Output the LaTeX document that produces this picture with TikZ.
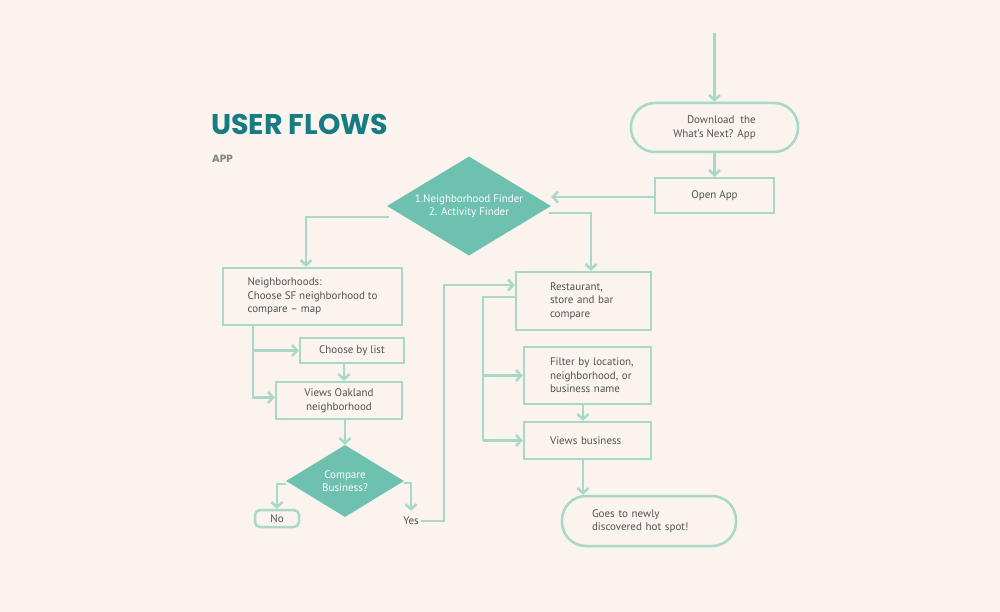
\documentclass[tikz,border=0pt]{standalone}
\usepackage{fontspec}
\setmainfont{PT Sans}
\newfontfamily\titlefont{Poppins}
\usetikzlibrary{arrows.meta,shapes.geometric,calc}
\definecolor{bg}{HTML}{FAF3EE}
\definecolor{ln}{HTML}{A9D8C8}
\definecolor{dfill}{HTML}{6DC1AE}
\definecolor{txt}{HTML}{525355}
\definecolor{ttl}{HTML}{177B82}
\definecolor{sub}{HTML}{858585}
\tikzset{
  line/.style={draw=ln, line width=2.5pt},
  arr/.style={line, -{Straight Barb[length=5pt,width=11pt,line width=2.5pt]}},
  box/.style={draw=ln, line width=2.5pt, rectangle, inner sep=0pt, text=txt,
    font=\fontsize{11}{13.5}\selectfont},
  rbox/.style={box, rounded corners=24pt},
  dia/.style={shape=diamond, fill=dfill, inner sep=0pt, text=white, align=center,
    font=\fontsize{11}{13}\selectfont},
  plain/.style={text=txt, inner sep=0pt, font=\fontsize{11}{13.5}\selectfont}
}
\begin{document}
\begin{tikzpicture}[x=1pt,y=-1pt]
\fill[bg] (0,0) rectangle (1000,612);
\useasboundingbox (0,0) rectangle (1000,612);

\node[anchor=base west, inner sep=0pt, text=ttl, font=\titlefont\bfseries\fontsize{28.5}{30}\selectfont] (title) at (211,135) {USER FLOWS};
\node[anchor=base west, inner sep=0pt, text=sub, font=\titlefont\bfseries\fontsize{10.5}{12}\selectfont] (app) at (212,163) {APP};

% right column top
\node[rbox, minimum width=167pt, minimum height=49pt, align=right] (dl) at (714.5,127.5) {Download\ \ the\\What’s Next? App};
\node[box, minimum width=119pt, minimum height=35pt] (open) at (714.5,195.5) {Open App};
\node[dia, shape aspect=1.67, minimum width=164pt, minimum height=99pt] (d1) at (469,206) {1.Neighborhood Finder\\2. Activity Finder};

% left column
\node[box, minimum width=179pt, minimum height=57pt, align=left] (nb) at (312.5,296.5) {Neighborhoods:\\Choose SF neighborhood to\\compare -- map};
\node[box, minimum width=104pt, minimum height=25pt] (cbl) at (352,350.5) {Choose by list};
\node[box, minimum width=126pt, minimum height=37pt, align=center] (vo) at (339,400.5) {Views Oakland\\neighborhood};
\node[dia, shape aspect=1.64, minimum width=118pt, minimum height=72pt] (d2) at (345,481) {Compare\\Business?};
\node[box, rounded corners=5pt, minimum width=44pt, minimum height=17pt] (no) at (277,518.5) {No};
\node[plain, inner ysep=6pt, inner xsep=2pt] (yes) at (411,521) {Yes};

% right column
\node[box, minimum width=135pt, minimum height=58pt, text width=67pt, align=left] (rs) at (583.5,301) {\mbox{Restaurant,}\\\mbox{store and bar}\\\mbox{compare}};
\node[box, minimum width=127pt, minimum height=57pt, text width=75pt, align=left] (fl) at (587.5,375.5) {\mbox{Filter by location,}\\\mbox{neighborhood, or}\\\mbox{business name}};
\node[box, minimum width=127pt, minimum height=37pt, text width=75pt, align=left] (vb) at (587.5,440.5) {\mbox{Views business}};
\node[rbox, minimum width=174pt, minimum height=50pt, text width=114pt, align=left] (gt) at (649,521) {\mbox{Goes to newly}\\\mbox{discovered hot spot!}};

% connectors
\coordinate (start) at (714.5,33);
\draw[arr] (start) -- (dl.north);
\draw[arr] (dl.south) -- (open.north);
\draw[arr] ([yshift=-1.5pt]open.west) -- ([yshift=-1.5pt]open.west -| d1.east);
\coordinate (d1l) at (389,217);
\draw[arr] (d1l) -| ([xshift=-6.5pt]nb.north);
\coordinate (d1r) at (549,213);
\draw[arr] (d1r) -| ([xshift=7.5pt]rs.north);

\coordinate (nbs) at ([xshift=-59.5pt]nb.south);
\draw[arr] (nbs) |- ([yshift=3pt]vo.west);
\draw[arr] (nbs |- cbl.west) -- (cbl.west);
\draw[arr] ([xshift=-8pt]cbl.south) -- ([xshift=-8pt]cbl.south |- vo.north);
\draw[arr] (vo.south -| d2.north) -- (d2.north);
\draw[arr] ([yshift=-3pt]d2.west) -| (no.north);
\draw[arr] ([yshift=-2pt]d2.east) -| (yes.north);
\draw[arr] (yes.east) -| ([xshift=-71pt,yshift=16pt]rs.west) -- ([yshift=16pt]rs.west);

\coordinate (rb) at ([xshift=-32pt,yshift=4pt]rs.west);
\draw[line] ([yshift=4pt]rs.west) -- (rb) -- (rb |- vb.west);
\draw[arr] (rb |- fl.west) -- (fl.west);
\draw[arr] (rb |- vb.west) -- (vb.west);
\draw[arr] ([xshift=-4.5pt]fl.south) -- ([xshift=-4.5pt]fl.south |- vb.north);
\draw[arr] ([xshift=-4.5pt]vb.south) -- ([xshift=-4.5pt]vb.south |- gt.north);
\end{tikzpicture}
\end{document}
